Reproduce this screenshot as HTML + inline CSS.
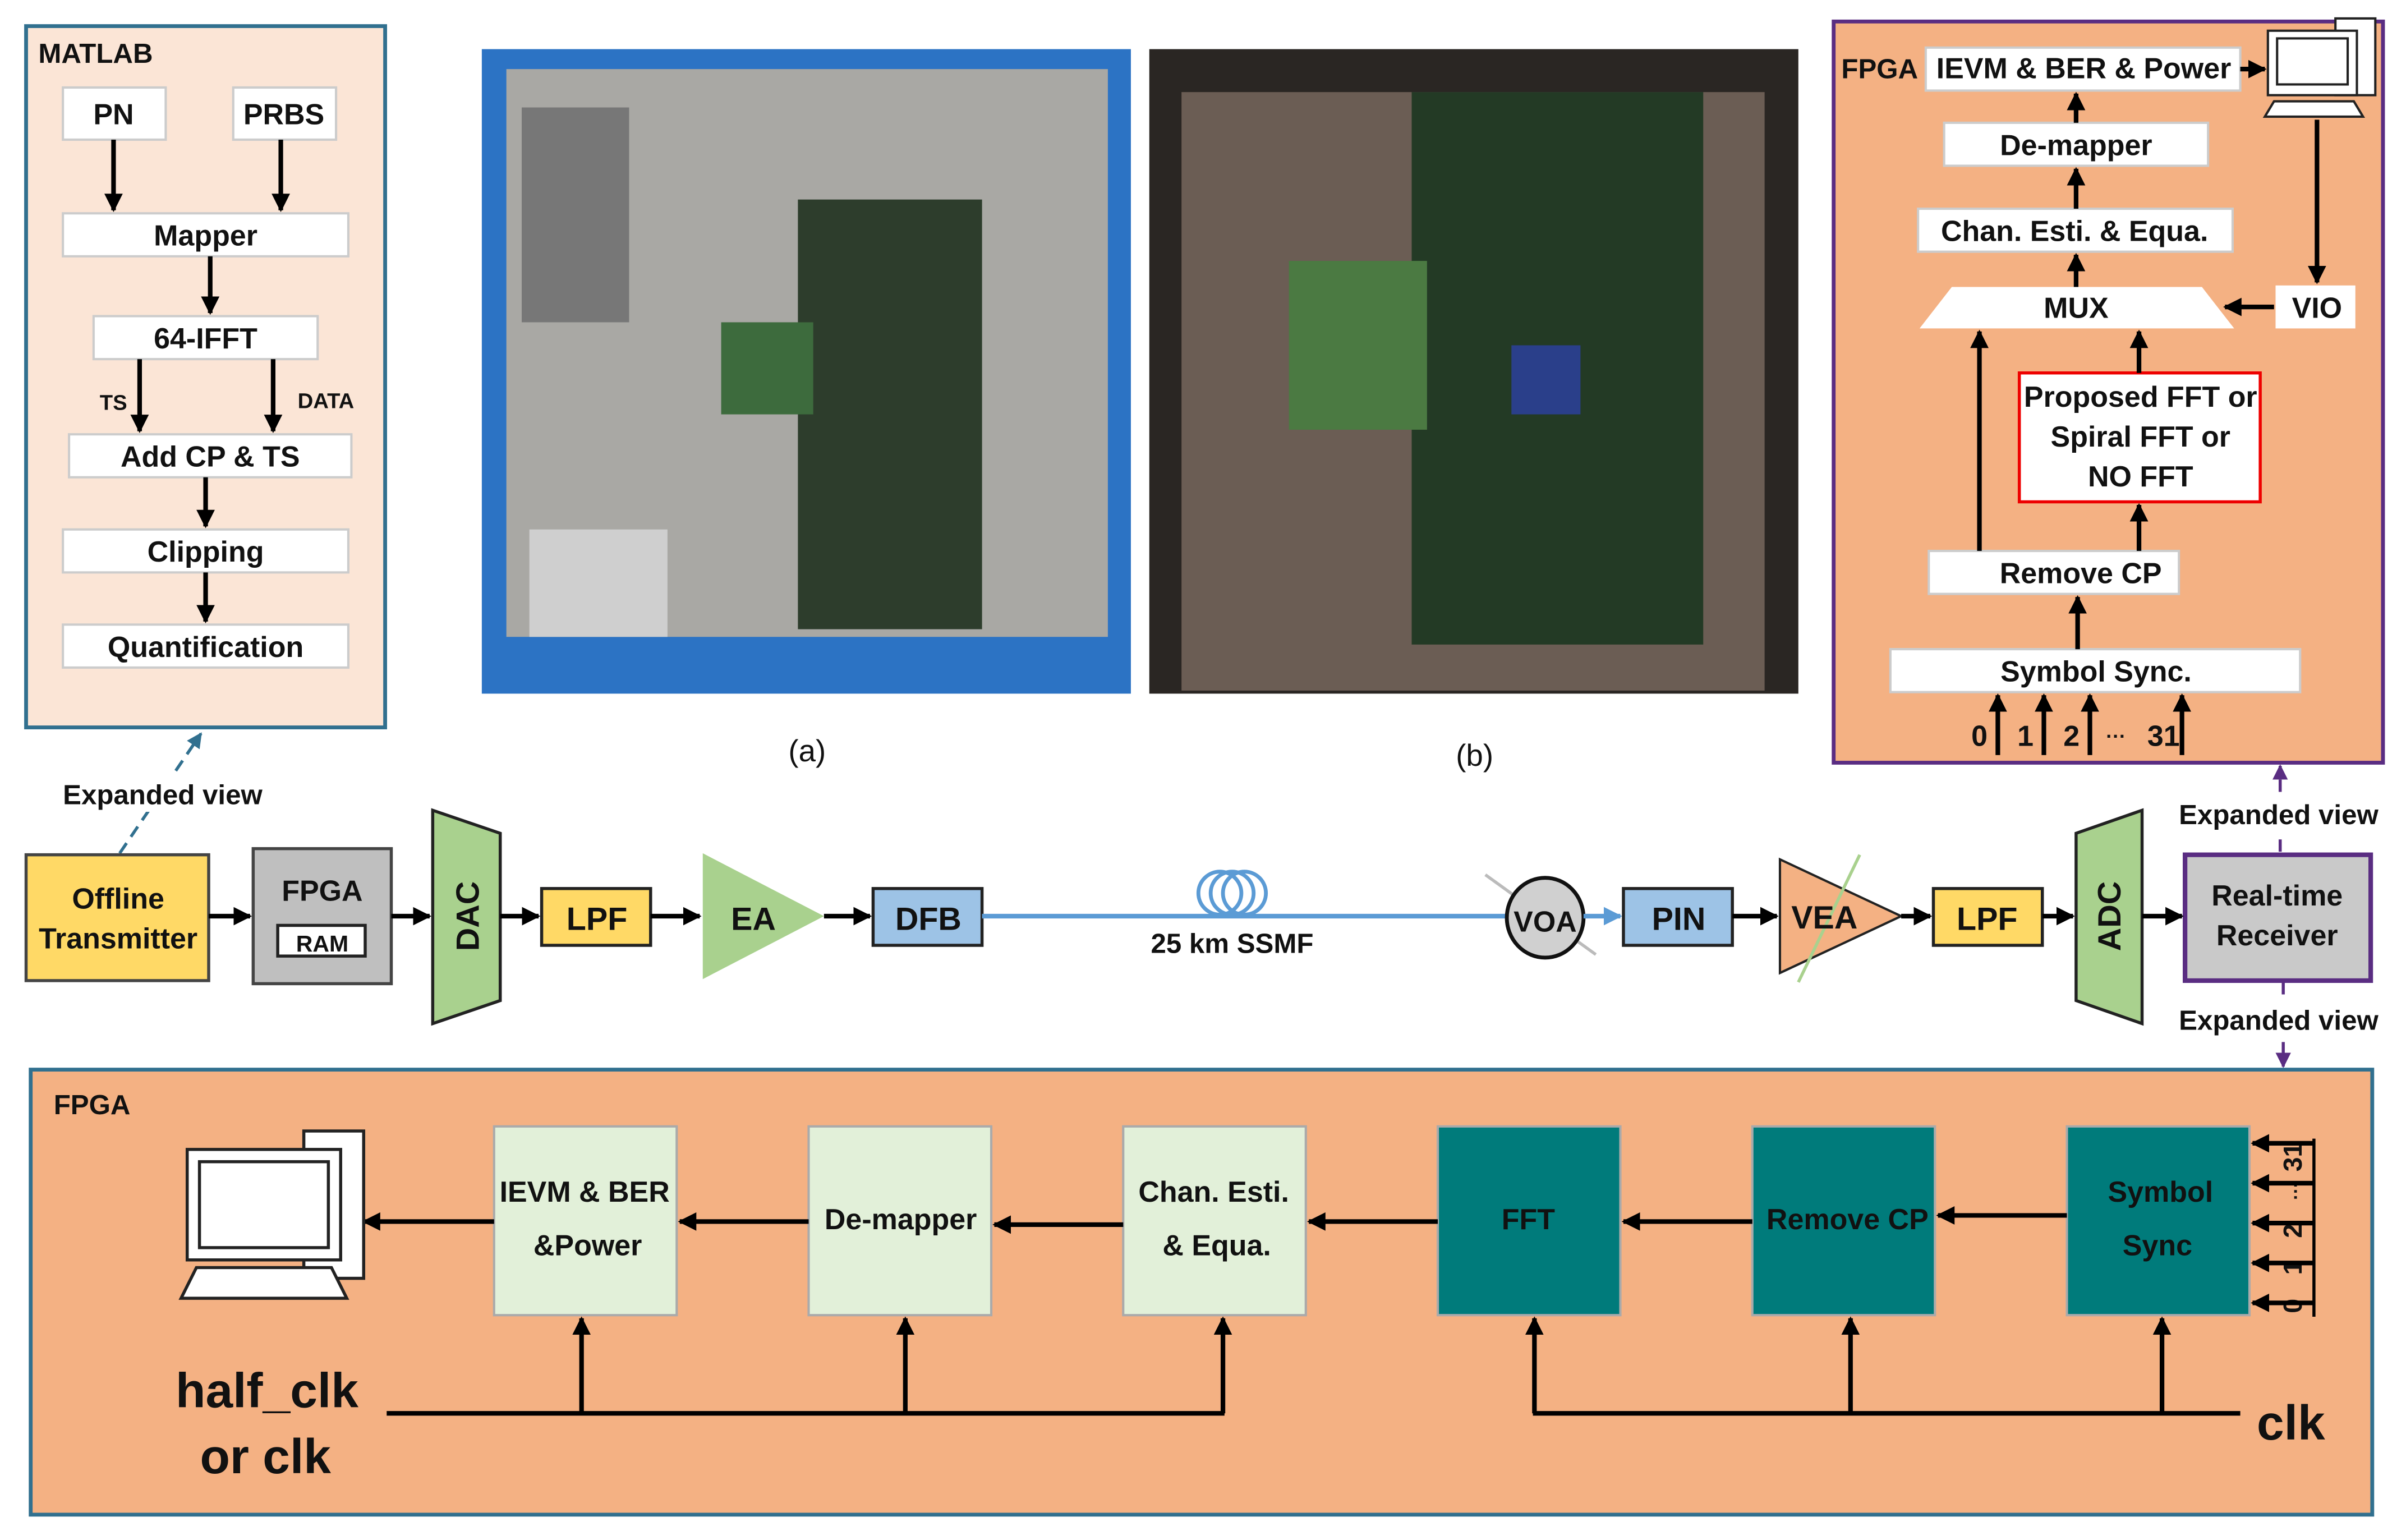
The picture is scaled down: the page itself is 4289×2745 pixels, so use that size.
<!DOCTYPE html>
<html><head><meta charset="utf-8"><style>
html,body{margin:0;padding:0;background:#fff;}
svg{display:block;}
text{font-family:"Liberation Sans",sans-serif;font-weight:bold;fill:#111;}
</style></head><body>
<svg width="4289" height="2745" viewBox="0 0 1568 1003.5" xmlns="http://www.w3.org/2000/svg">
<defs>
<marker id="a" viewBox="0 0 10 10" refX="9" refY="5" markerWidth="4" markerHeight="4" orient="auto"><path d="M0,0L10,5L0,10z" fill="#000"/></marker>
<marker id="ab" viewBox="0 0 10 10" refX="9" refY="5" markerWidth="4" markerHeight="4" orient="auto"><path d="M0,0L10,5L0,10z" fill="#5b9bd5"/></marker>
<marker id="ap" viewBox="0 0 10 10" refX="9" refY="5" markerWidth="5" markerHeight="5" orient="auto"><path d="M0,0L10,5L0,10z" fill="#5a2d82"/></marker>
<marker id="at" viewBox="0 0 10 10" refX="9" refY="5" markerWidth="5" markerHeight="5" orient="auto"><path d="M0,0L10,5L0,10z" fill="#31708f"/></marker>
</defs>
<g stroke="#000" stroke-width="3" fill="none" marker-end="url(#a)">
</g>

<!-- MATLAB panel -->
<rect x="17" y="17" width="234" height="457" fill="#fbe5d6" stroke="#31708f" stroke-width="2.5"/>
<text x="25" y="41" font-size="18">MATLAB</text>
<g fill="#fff" stroke="#ccc" stroke-width="1.5">
<rect x="41" y="57" width="67" height="34"/><rect x="152" y="57" width="67" height="34"/>
<rect x="41" y="139" width="186" height="28"/><rect x="61" y="206" width="146" height="28"/>
<rect x="45" y="283" width="184" height="28"/><rect x="41" y="345" width="186" height="28"/>
<rect x="41" y="407" width="186" height="28"/>
</g>
<g font-size="19" text-anchor="middle">
<text x="74" y="81">PN</text><text x="185" y="81">PRBS</text>
<text x="134" y="160">Mapper</text><text x="134" y="227">64-IFFT</text>
<text x="137" y="304">Add CP &amp; TS</text><text x="134" y="366">Clipping</text>
<text x="134" y="428">Quantification</text>
</g>
<text x="65" y="267" font-size="14">TS</text><text x="194" y="266" font-size="14">DATA</text>
<g stroke="#000" stroke-width="3" marker-end="url(#a)">
<line x1="74" y1="91" x2="74" y2="137"/><line x1="183" y1="91" x2="183" y2="137"/>
<line x1="137" y1="167" x2="137" y2="204"/><line x1="91" y1="234" x2="91" y2="281"/>
<line x1="178" y1="234" x2="178" y2="281"/><line x1="134" y1="311" x2="134" y2="343"/>
<line x1="134" y1="373" x2="134" y2="405"/>
</g>

<!-- photos -->
<rect x="314" y="32" width="423" height="420" fill="#2c73c4"/>
<rect x="330" y="45" width="392" height="370" fill="#a9a8a4"/>
<rect x="340" y="70" width="70" height="140" fill="#777"/>
<rect x="520" y="130" width="120" height="280" fill="#2d3d2c"/>
<rect x="470" y="210" width="60" height="60" fill="#3d6b3d"/>
<rect x="345" y="345" width="90" height="70" fill="#cfcfcf"/>
<rect x="749" y="32" width="423" height="420" fill="#2a2623"/>
<rect x="770" y="60" width="380" height="390" fill="#6b5d54"/>
<rect x="920" y="60" width="190" height="360" fill="#233a25"/>
<rect x="840" y="170" width="90" height="110" fill="#4b7a42"/>
<rect x="985" y="225" width="45" height="45" fill="#2a3f8a"/>
<text x="526" y="496" font-size="20" font-weight="normal" style="font-weight:normal" text-anchor="middle">(a)</text>
<text x="961" y="499" font-size="20" style="font-weight:normal" text-anchor="middle">(b)</text>

<!-- main chain -->
<line x1="78" y1="556" x2="131" y2="478" stroke="#31708f" stroke-width="2" stroke-dasharray="8,5" marker-end="url(#at)"/>
<rect x="30" y="505" width="150" height="24" fill="#fff"/>
<text x="106" y="524" font-size="18" text-anchor="middle">Expanded view</text>
<rect x="17" y="557" width="119" height="82" fill="#ffd966" stroke="#444" stroke-width="2"/>
<text x="77" y="592" font-size="19" text-anchor="middle">Offline</text>
<text x="77" y="618" font-size="19" text-anchor="middle">Transmitter</text>
<rect x="165" y="553" width="90" height="88" fill="#bfbfbf" stroke="#444" stroke-width="2"/>
<text x="210" y="587" font-size="19" text-anchor="middle">FPGA</text>
<rect x="181" y="603" width="57" height="20" fill="#fff" stroke="#222" stroke-width="2"/>
<text x="210" y="620" font-size="15" text-anchor="middle">RAM</text>
<polygon points="282,528 326,543 326,652 282,667" fill="#a9d18e" stroke="#222" stroke-width="2"/>
<text transform="translate(312,597) rotate(-90)" font-size="21" text-anchor="middle">DAC</text>
<rect x="353" y="579" width="71" height="37" fill="#ffd966" stroke="#222" stroke-width="2"/>
<text x="389" y="606" font-size="21" text-anchor="middle">LPF</text>
<polygon points="458,556 537,597 458,638" fill="#a9d18e"/>
<text x="491" y="606" font-size="21" text-anchor="middle">EA</text>
<rect x="569" y="579" width="71" height="37" fill="#9dc3e6" stroke="#222" stroke-width="2"/>
<text x="605" y="606" font-size="21" text-anchor="middle">DFB</text>
<line x1="640" y1="597" x2="985" y2="597" stroke="#5b9bd5" stroke-width="3"/>
<g fill="none" stroke="#5b9bd5" stroke-width="2.5"><circle cx="795" cy="582" r="14"/><circle cx="803" cy="582" r="14"/><circle cx="811" cy="582" r="14"/></g>
<text x="803" y="621" font-size="18" text-anchor="middle">25 km SSMF</text>
<line x1="1040" y1="622" x2="968" y2="570" stroke="#bbb" stroke-width="2"/>
<ellipse cx="1007" cy="598" rx="25" ry="26" fill="#d0d0d0" stroke="#111" stroke-width="2.5"/>
<text x="1007" y="607" font-size="19" text-anchor="middle">VOA</text>
<line x1="1032" y1="597" x2="1056" y2="597" stroke="#5b9bd5" stroke-width="3" marker-end="url(#ab)"/>
<rect x="1058" y="579" width="71" height="37" fill="#9dc3e6" stroke="#222" stroke-width="2"/>
<text x="1094" y="606" font-size="21" text-anchor="middle">PIN</text>
<polygon points="1160,560 1239,597 1160,634" fill="#f4b183" stroke="#222" stroke-width="1.5"/>
<line x1="1172" y1="640" x2="1212" y2="557" stroke="#a9d18e" stroke-width="2"/>
<text x="1189" y="605" font-size="21" text-anchor="middle">VEA</text>
<rect x="1260" y="579" width="71" height="37" fill="#ffd966" stroke="#222" stroke-width="2"/>
<text x="1295" y="606" font-size="21" text-anchor="middle">LPF</text>
<polygon points="1353,543 1396,528 1396,667 1353,652" fill="#a9d18e" stroke="#222" stroke-width="2"/>
<text transform="translate(1382,597) rotate(-90)" font-size="21" text-anchor="middle">ADC</text>
<rect x="1424" y="557" width="121" height="82" fill="#c9c9c9" stroke="#5a2d82" stroke-width="3"/>
<text x="1484" y="590" font-size="19" text-anchor="middle">Real-time</text>
<text x="1484" y="616" font-size="19" text-anchor="middle">Receiver</text>
<g stroke="#000" stroke-width="3" marker-end="url(#a)">
<line x1="136" y1="597" x2="163" y2="597"/><line x1="255" y1="597" x2="280" y2="597"/>
<line x1="326" y1="597" x2="351" y2="597"/><line x1="424" y1="597" x2="456" y2="597"/>
<line x1="537" y1="597" x2="567" y2="597"/><line x1="1129" y1="597" x2="1158" y2="597"/>
<line x1="1239" y1="597" x2="1258" y2="597"/><line x1="1331" y1="597" x2="1351" y2="597"/>
<line x1="1396" y1="597" x2="1422" y2="597"/>
</g>
<line x1="1486" y1="555" x2="1486" y2="499" stroke="#5a2d82" stroke-width="2" stroke-dasharray="8,5" marker-end="url(#ap)"/>
<line x1="1488" y1="640" x2="1488" y2="695" stroke="#5a2d82" stroke-width="2" stroke-dasharray="8,5" marker-end="url(#ap)"/>
<rect x="1412" y="518" width="150" height="25" fill="#fff"/>
<text x="1485" y="537" font-size="18" text-anchor="middle">Expanded view</text>
<rect x="1412" y="652" width="150" height="25" fill="#fff"/>
<text x="1485" y="671" font-size="18" text-anchor="middle">Expanded view</text>

<!-- top-right FPGA -->
<rect x="1195" y="14" width="358" height="483" fill="#f4b183" stroke="#5a2d82" stroke-width="2.5"/>
<text x="1200" y="51" font-size="18">FPGA</text>
<g fill="#fff" stroke="#ccc" stroke-width="1.5">
<rect x="1255" y="31" width="205" height="28"/><rect x="1267" y="80" width="172" height="28"/>
<rect x="1250" y="136" width="205" height="28"/><rect x="1257" y="359" width="163" height="28"/>
<rect x="1232" y="423" width="267" height="28"/>
</g>
<polygon points="1272,187 1435,187 1456,214 1251,214" fill="#fff"/>
<rect x="1316" y="243" width="157" height="84" fill="#fff" stroke="#e00" stroke-width="2"/>
<rect x="1483" y="186" width="52" height="28" fill="#fff"/>
<g font-size="19" text-anchor="middle">
<text x="1358" y="51">IEVM &amp; BER &amp; Power</text><text x="1353" y="101">De-mapper</text>
<text x="1352" y="157">Chan. Esti. &amp; Equa.</text><text x="1353" y="207">MUX</text>
<text x="1510" y="207">VIO</text>
<text x="1395" y="265">Proposed FFT or</text><text x="1395" y="291">Spiral FFT or</text><text x="1395" y="317">NO FFT</text>
<text x="1356" y="380">Remove CP</text><text x="1366" y="444">Symbol Sync.</text>
<text x="1290" y="486">0</text><text x="1320" y="486">1</text><text x="1350" y="486">2</text><text x="1379" y="484" font-size="13">···</text><text x="1410" y="486">31</text>
</g>
<g stroke="#000" stroke-width="3" marker-end="url(#a)">
<line x1="1460" y1="45" x2="1476" y2="45"/><line x1="1353" y1="80" x2="1353" y2="61"/>
<line x1="1353" y1="136" x2="1353" y2="110"/><line x1="1353" y1="187" x2="1353" y2="166"/>
<line x1="1482" y1="200" x2="1450" y2="200"/><line x1="1510" y1="78" x2="1510" y2="184"/>
<line x1="1394" y1="243" x2="1394" y2="216"/><line x1="1394" y1="359" x2="1394" y2="329"/>
<line x1="1290" y1="359" x2="1290" y2="216"/><line x1="1354" y1="423" x2="1354" y2="389"/>
<line x1="1302" y1="492" x2="1302" y2="453"/><line x1="1332" y1="492" x2="1332" y2="453"/>
<line x1="1362" y1="492" x2="1362" y2="453"/><line x1="1422" y1="492" x2="1422" y2="453"/>
</g>
<!-- small computer -->
<g stroke="#222" stroke-width="1.5">
<rect x="1522" y="12" width="26" height="50" fill="#fff"/>
<rect x="1478" y="20" width="58" height="42" fill="#fff"/>
<rect x="1484" y="25" width="46" height="30" fill="#fff"/>
<polygon points="1482,66 1534,66 1540,76 1476,76" fill="#fff"/>
</g>

<!-- bottom FPGA -->
<rect x="20" y="697" width="1526" height="290" fill="#f4b183" stroke="#31708f" stroke-width="2.5"/>
<text x="35" y="726" font-size="18">FPGA</text>
<g stroke="#aaa" stroke-width="1.5" fill="#e2f0d9">
<rect x="322" y="734" width="119" height="123"/><rect x="527" y="734" width="119" height="123"/><rect x="732" y="734" width="119" height="123"/>
</g>
<g stroke="#aaa" stroke-width="1.5" fill="#007b7b">
<rect x="937" y="734" width="119" height="123"/><rect x="1142" y="734" width="119" height="123"/><rect x="1347" y="734" width="119" height="123"/>
</g>
<g font-size="19" text-anchor="middle">
<text x="381" y="783">IEVM &amp; BER</text><text x="383" y="818">&amp;Power</text>
<text x="587" y="801">De-mapper</text>
<text x="791" y="783">Chan. Esti.</text><text x="793" y="818">&amp; Equa.</text>
<text x="996" y="801">FFT</text><text x="1204" y="801">Remove CP</text>
<text x="1408" y="783">Symbol</text><text x="1406" y="818">Sync</text>
<text x="174" y="917" font-size="32">half_clk</text><text x="173" y="960" font-size="32">or clk</text>
<text x="1493" y="938" font-size="32">clk</text>
</g>
<g font-size="17" text-anchor="middle">
<text transform="translate(1500,851) rotate(-90)">0</text><text transform="translate(1500,826) rotate(-90)">1</text>
<text transform="translate(1500,802) rotate(-90)">2</text><text transform="translate(1500,776) rotate(-90)" font-size="12">···</text>
<text transform="translate(1500,754) rotate(-90)">31</text>
</g>
<line x1="1508" y1="742" x2="1508" y2="858" stroke="#000" stroke-width="2"/>
<g stroke="#000" stroke-width="3" marker-end="url(#a)">
<line x1="937" y1="796" x2="853" y2="796"/><line x1="732" y1="798" x2="648" y2="798"/>
<line x1="527" y1="796" x2="443" y2="796"/><line x1="322" y1="796" x2="237" y2="796"/>
<line x1="1142" y1="796" x2="1058" y2="796"/><line x1="1347" y1="792" x2="1263" y2="792"/>
<line x1="1508" y1="745" x2="1468" y2="745"/><line x1="1508" y1="771" x2="1468" y2="771"/>
<line x1="1508" y1="797" x2="1468" y2="797"/><line x1="1508" y1="823" x2="1468" y2="823"/>
<line x1="1508" y1="849" x2="1468" y2="849"/>
<line x1="379" y1="921" x2="379" y2="859"/><line x1="590" y1="921" x2="590" y2="859"/>
<line x1="797" y1="921" x2="797" y2="859"/><line x1="1000" y1="921" x2="1000" y2="859"/>
<line x1="1206" y1="921" x2="1206" y2="859"/><line x1="1409" y1="921" x2="1409" y2="859"/>
</g>
<line x1="252" y1="921" x2="798" y2="921" stroke="#000" stroke-width="3"/>
<line x1="999" y1="921" x2="1460" y2="921" stroke="#000" stroke-width="3"/>
<!-- big computer -->
<g stroke="#222" stroke-width="2">
<rect x="198" y="737" width="39" height="96" fill="#fff"/>
<rect x="122" y="749" width="100" height="72" fill="#fff"/>
<rect x="130" y="757" width="84" height="56" fill="#fff"/>
<polygon points="128,826 216,826 226,846 118,846" fill="#fff"/>
</g>
</svg>
</body></html>
